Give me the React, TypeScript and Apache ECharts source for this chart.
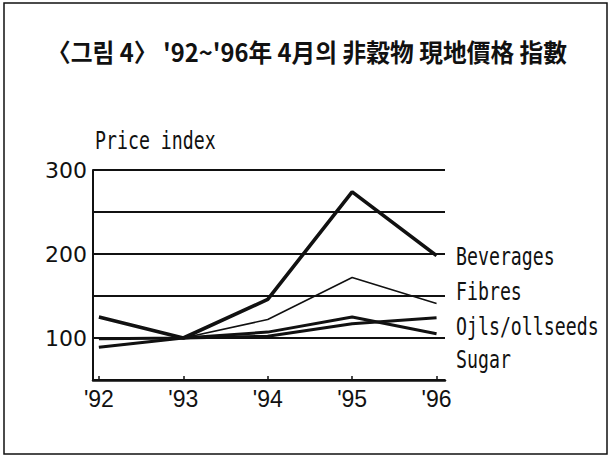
import React, { useEffect, useRef } from "react";
import * as echarts from "echarts";

const years = [92, 93, 94, 95, 96];
const beverages = [125, 100, 146, 274, 198];
const fibres = [89, 100, 122, 172, 141];
const oilsOilseeds = [89, 100, 102, 117, 124];
const sugar = [99, 100, 107, 125, 105];
const seriesNames = ["Beverages", "Fibres", "Ojls/ollseeds", "Sugar"];
const yTickLabels = [100, 200, 300];
const titleText = "〈그림 4〉 '92~'96年 4月의 非穀物 現地價格 指數";
const yAxisTitle = "Price index";

const pairs = (vals: number[]) => vals.map((v, i) => [years[i], v]);

export default function App() {
  const ref = useRef<HTMLDivElement>(null);
  useEffect(() => {
    if (!ref.current) return;
    const chart = echarts.init(ref.current, null, { renderer: "svg" });
    const lineStyles = [3.6, 1.6, 3, 3];
    const dataSets = [beverages, fibres, oilsOilseeds, sugar];
    const labelY = [257, 292, 327, 360];
    const monoText = (text: string, x: number, y: number) => ({
      type: "text",
      x,
      y,
      scaleX: 0.76,
      style: {
        text,
        fill: "#111",
        font: '24px "DejaVu Sans Mono"',
        textAlign: "left",
        textVerticalAlign: "middle",
      },
    });
    chart.setOption({
      animation: false,
      backgroundColor: "#fff",
      grid: { left: 93, right: 168, top: 170, bottom: 80 },
      xAxis: {
        type: "value",
        min: 91.93,
        max: 96.1,
        axisLine: { show: true, lineStyle: { color: "#111", width: 2.5 } },
        axisTick: {
          show: true,
          inside: true,
          length: 4,
          customValues: years,
          lineStyle: { color: "#111", width: 1.5 },
        },
        axisLabel: {
          customValues: years,
          formatter: (v: number) => "'" + String(Math.round(v)).slice(-2),
          color: "#111",
          fontFamily: "Liberation Sans",
          fontSize: 23,
          margin: 7,
        },
        splitLine: { show: false },
      },
      yAxis: {
        type: "value",
        min: 50,
        max: 300,
        interval: 50,
        axisLine: { show: true, lineStyle: { color: "#111", width: 2 } },
        axisTick: { show: false },
        axisLabel: {
          formatter: (v: number) => (yTickLabels.includes(v) ? String(v) : ""),
          color: "#111",
          fontFamily: "DejaVu Sans",
          fontSize: 22,
          margin: 6,
        },
        splitLine: { show: true, lineStyle: { color: "#111", width: 2 } },
      },
      series: dataSets.map((d, i) => ({
        name: seriesNames[i],
        type: "line",
        data: pairs(d),
        symbol: "none",
        lineStyle: { color: "#111", width: lineStyles[i] },
        z: 3,
      })),
      graphic: [
        {
          type: "rect",
          shape: { x: 4, y: 3, width: 603, height: 451 },
          style: { fill: "none", stroke: "#111", lineWidth: 1.5 },
          silent: true,
        },
        {
          type: "text",
          x: 47,
          y: 51,
          scaleX: 0.95,
          style: {
            text: titleText,
            fill: "#111",
            font: 'bold 25px "Noto Sans CJK KR"',
            textAlign: "left",
            textVerticalAlign: "middle",
          },
        },
        monoText(yAxisTitle, 95, 141),
        ...seriesNames.map((n, i) => monoText(n, 456, labelY[i])),
      ],
    });
    return () => chart.dispose();
  }, []);
  return (
    <div
      ref={ref}
      style={{ position: "fixed", left: 0, top: 0, width: 613, height: 460 }}
    />
  );
}
